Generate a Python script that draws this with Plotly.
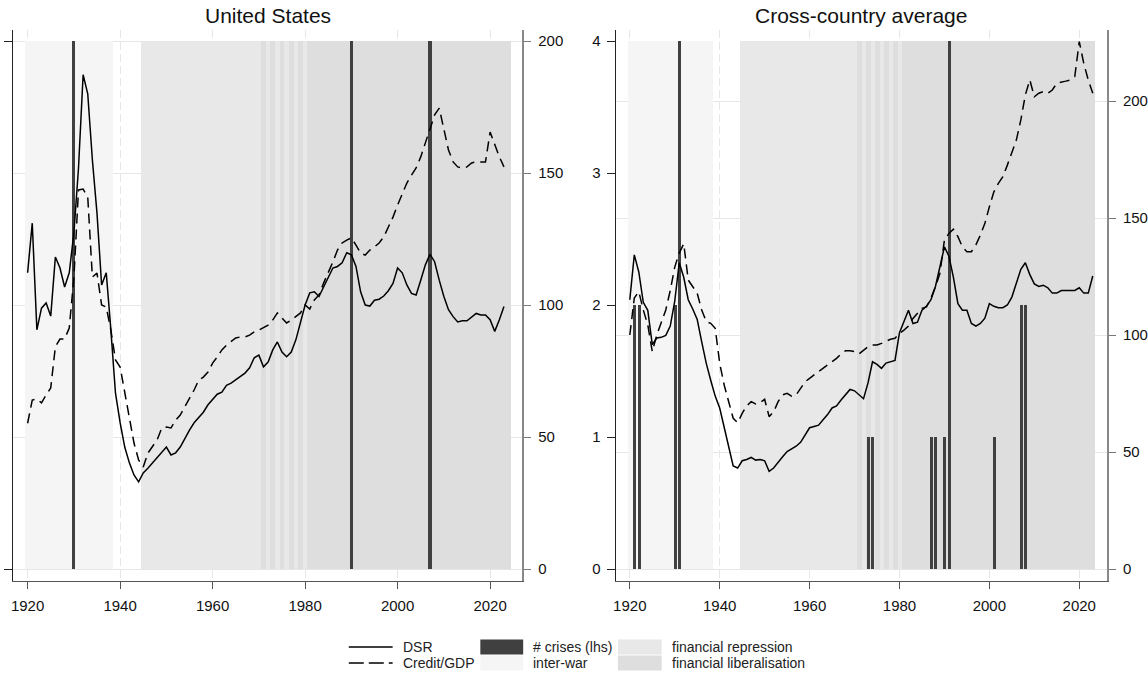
import plotly.graph_objects as go

W, H = 1148, 675
FONT = "Liberation Sans, Arial, sans-serif"

# ---------------------------------------------------------------- data
us_years = list(range(1920, 2024))
us_dsr = [
    0.561, 0.655, 0.453, 0.494, 0.504, 0.479, 0.591, 0.570, 0.534, 0.561,
    0.636, 0.759, 0.936, 0.900, 0.775, 0.674, 0.538, 0.561, 0.453, 0.333,
    0.277, 0.231, 0.201, 0.178, 0.165, 0.182, 0.191, 0.201, 0.212, 0.220,
    0.231, 0.216, 0.220, 0.231, 0.248, 0.263, 0.277, 0.286, 0.297, 0.311,
    0.320, 0.331, 0.335, 0.348, 0.352, 0.358, 0.364, 0.371, 0.381, 0.400,
    0.405, 0.383, 0.392, 0.415, 0.430, 0.411, 0.402, 0.411, 0.434, 0.468,
    0.500, 0.523, 0.525, 0.516, 0.535, 0.554, 0.570, 0.573, 0.580, 0.599,
    0.595, 0.573, 0.525, 0.500, 0.498, 0.509, 0.511, 0.517, 0.527, 0.541,
    0.570, 0.561, 0.538, 0.522, 0.519, 0.547, 0.576, 0.596, 0.582, 0.547,
    0.516, 0.491, 0.478, 0.468, 0.470, 0.470, 0.477, 0.484, 0.481, 0.481,
    0.472, 0.450, 0.472, 0.497,
]
us_credit = [
    55.2, 64.0, 64.4, 62.9, 65.9, 68.6, 84.2, 87.1, 87.1, 91.3,
    110.2, 143.6, 143.9, 140.9, 110.6, 112.1, 100.0, 99.2, 90.5, 79.2,
    76.5, 66.7, 56.4, 47.7, 41.3, 38.6, 43.9, 46.2, 48.9, 53.4,
    53.8, 53.4, 56.4, 58.3, 61.4, 64.8, 67.8, 71.6, 72.7, 74.6,
    78.0, 80.3, 83.0, 84.8, 86.0, 87.5, 87.9, 87.9, 88.6, 89.8,
    90.5, 91.3, 92.4, 94.3, 97.0, 95.1, 93.2, 94.3, 95.5, 97.0,
    100.0, 98.5, 101.9, 103.8, 108.3, 112.1, 116.3, 120.8, 123.5, 124.6,
    125.4, 122.7, 119.7, 118.9, 120.8, 122.0, 123.5, 125.8, 129.5, 133.3,
    137.9, 142.4, 146.2, 149.2, 151.9, 156.1, 161.4, 167.4, 172.0, 174.6,
    166.3, 158.7, 154.2, 152.3, 151.9, 152.3, 153.8, 154.2, 154.2, 154.2,
    165.5, 160.6, 156.1, 152.3,
]
us_crisis_years = [1930, 1990, 2007]
us_crisis_count = [1, 1, 1]

cc_years = list(range(1920, 2024))
cc_dsr = [
    2.04, 2.38, 2.25, 2.02, 1.96, 1.70, 1.75, 1.755, 1.77, 1.84,
    2.03, 2.32, 2.21, 2.04, 1.97, 1.89, 1.72, 1.56, 1.43, 1.31,
    1.22, 1.07, 0.93, 0.78, 0.765, 0.82, 0.83, 0.845, 0.825, 0.83,
    0.82, 0.74, 0.765, 0.81, 0.85, 0.89, 0.91, 0.93, 0.96, 1.01,
    1.07, 1.08, 1.09, 1.13, 1.17, 1.22, 1.235, 1.28, 1.32, 1.36,
    1.35, 1.32, 1.29, 1.41, 1.57, 1.55, 1.52, 1.56, 1.57, 1.58,
    1.79, 1.87, 1.96, 1.86, 1.87, 1.96, 1.99, 2.04, 2.14, 2.29,
    2.44, 2.37, 2.21, 2.01, 1.96, 1.96, 1.86, 1.84, 1.86, 1.90,
    2.01, 1.99, 1.98, 1.98, 2.00, 2.06, 2.16, 2.27, 2.32, 2.23,
    2.16, 2.14, 2.15, 2.13, 2.09, 2.09, 2.11, 2.11, 2.11, 2.11,
    2.13, 2.09, 2.09, 2.22,
]
cc_credit = [
    100.0, 115.8, 118.5, 110.7, 104.3, 92.9, 100.0, 105.7, 110.7, 119.0,
    129.0, 135.0, 139.0, 123.5, 120.7, 117.8, 110.7, 105.7, 105.0, 102.9,
    87.9, 78.6, 71.5, 64.4, 62.5, 66.5, 69.7, 71.5, 70.5, 71.1,
    72.5, 65.1, 67.2, 71.5, 74.4, 75.1, 73.9, 74.4, 77.2, 80.0,
    81.5, 82.9, 84.3, 85.8, 87.2, 88.6, 90.0, 91.9, 93.3, 93.3,
    92.9, 91.9, 93.6, 95.0, 95.7, 95.7, 96.4, 97.2, 98.2, 98.6,
    100.7, 102.1, 103.8, 107.1, 109.3, 111.4, 112.0, 115.7, 120.6, 126.4,
    140.6, 143.4, 145.2, 142.0, 137.7, 135.6, 135.6, 138.5, 142.7, 147.7,
    154.8, 161.2, 164.8, 167.7, 172.6, 177.6, 183.3, 191.9, 202.6, 209.0,
    201.8, 203.3, 204.0, 203.3, 204.7, 207.6, 208.2, 208.5, 209.0, 210.4,
    225.4, 216.1, 209.0, 203.3,
]
cc_crisis_years = [1921, 1922, 1930, 1931, 1973, 1974, 1987, 1988, 1990, 1991, 2001, 2007, 2008]
cc_crisis_count = [2, 2, 2, 4, 1, 1, 1, 1, 1, 4, 1, 2, 2]

# policy regimes by year
inter_war_years = list(range(1920, 1939))
repression_years = list(range(1945, 1971)) + [1972, 1974, 1976, 1978, 1980]
liberalisation_us = [1971, 1973, 1975, 1977, 1979] + list(range(1981, 2025))
liberalisation_cc = [1971, 1973, 1975, 1977, 1979] + list(range(1981, 2024))

x_ticks = [1920, 1940, 1960, 1980, 2000, 2020]
rhs_ticks = [0, 50, 100, 150, 200]

# ---------------------------------------------------------------- styles
C_INTERWAR = "#f5f5f5"
C_REPRESSION = "#e8e8e8"
C_LIBERAL = "#dedede"
C_CRISIS = "#404040"
C_GRID = "#e6e6e6"


def px_x(p):
    return p / W


def px_y(p):
    return 1 - p / H


fig = go.Figure()


def regime_bars(years, top, color, xa, ya):
    fig.add_trace(go.Bar(
        x=years, y=[top] * len(years), width=[1.0] * len(years),
        marker=dict(color=color, line=dict(width=0)),
        xaxis=xa, yaxis=ya, showlegend=False, hoverinfo="skip",
    ))


def panel(years, dsr, credit, cyears, ccount, lib_years, top, xa, ya, ya2):
    regime_bars(inter_war_years, top, C_INTERWAR, xa, ya)
    regime_bars(repression_years, top, C_REPRESSION, xa, ya)
    regime_bars(lib_years, top, C_LIBERAL, xa, ya)
    fig.add_trace(go.Bar(
        x=cyears, y=ccount, width=[0.68] * len(cyears),
        marker=dict(color=C_CRISIS, line=dict(width=0)),
        xaxis=xa, yaxis=ya, showlegend=False, name="# crises (lhs)",
    ))
    fig.add_trace(go.Scatter(
        x=years, y=dsr, mode="lines", name="DSR",
        line=dict(color="black", width=1.5),
        xaxis=xa, yaxis=ya, showlegend=False,
    ))
    fig.add_trace(go.Scatter(
        x=years, y=credit, mode="lines", name="Credit/GDP",
        line=dict(color="black", width=1.5, dash="10px,6px"),
        xaxis=xa, yaxis=ya2, showlegend=False,
    ))


panel(us_years, us_dsr, us_credit, us_crisis_years, us_crisis_count,
      liberalisation_us, 1, "x", "y", "y2")
panel(cc_years, cc_dsr, cc_credit, cc_crisis_years, cc_crisis_count,
      liberalisation_cc, 4, "x2", "y3", "y4")

y_dom = [px_y(581), px_y(30)]
tick_font = dict(family=FONT, size=15, color="#111")

xcommon = dict(
    tickvals=x_ticks, ticks="outside", ticklen=7, tickwidth=1, tickcolor="#555",
    showline=True, linecolor="#555", linewidth=1, zeroline=False,
    showgrid=True, gridcolor=C_GRID, gridwidth=1, griddash="8px,4px",
    tickfont=tick_font, ticklabelstandoff=4,
)
lcommon = dict(
    ticks="outside", ticklen=8, tickwidth=1, tickcolor="#222",
    showline=True, linecolor="#222", linewidth=1, zeroline=False,
    showgrid=False, tickfont=tick_font, domain=y_dom,
)
rcommon = dict(
    side="right", tickvals=rhs_ticks, ticks="outside", ticklen=7, tickwidth=1,
    tickcolor="#777", showline=True, linecolor="#888", linewidth=1.5,
    zeroline=False, showgrid=True, gridcolor=C_GRID, gridwidth=1,
    tickfont=tick_font, ticklabelstandoff=4,
)

fig.update_layout(
    width=W, height=H, margin=dict(l=0, r=0, t=0, b=0),
    paper_bgcolor="white", plot_bgcolor="rgba(0,0,0,0)",
    barmode="overlay", bargap=0, showlegend=False,
    font=dict(family=FONT, color="#111"),
    xaxis=dict(domain=[px_x(11), px_x(522.3)], range=[1916.83, 2027.0],
               anchor="y", **xcommon),
    yaxis=dict(anchor="x", range=[-12 / 528, 1 + 11 / 528], tickvals=[0, 1],
               showticklabels=False, **lcommon),
    yaxis2=dict(anchor="x", overlaying="y", range=[-12 / 2.64, 200 + 11 / 2.64],
                **rcommon),
    xaxis2=dict(domain=[px_x(615.7), px_x(1109)], range=[1916.83, 2026.2],
                anchor="y3", **xcommon),
    yaxis3=dict(anchor="x2", range=[-12 / 132, 4 + 11 / 132],
                tickvals=[0, 1, 2, 3, 4], ticklabelstandoff=3, **lcommon),
    yaxis4=dict(anchor="x2", overlaying="y3", range=[-12 / 2.34, 539 / 2.34],
                **rcommon),
)

# panel titles
for txt, cx in [("United States", (11 + 522.3) / 2), ("Cross-country average", (615.7 + 1109) / 2)]:
    fig.add_annotation(text=txt, x=px_x(cx), y=px_y(16), xref="paper", yref="paper",
                       showarrow=False, xanchor="center", yanchor="middle",
                       font=dict(family=FONT, size=21, color="#111"))

# legend
leg_font = dict(family=FONT, size=14, color="#222")
rows = {1: 647, 2: 663}
fig.add_shape(type="line", xref="paper", yref="paper",
              x0=px_x(348), x1=px_x(392), y0=px_y(rows[1]), y1=px_y(rows[1]),
              line=dict(color="black", width=1.5))
fig.add_shape(type="line", xref="paper", yref="paper",
              x0=px_x(348), x1=px_x(392), y0=px_y(rows[2]), y1=px_y(rows[2]),
              line=dict(color="black", width=1.5, dash="15px,5px"))
boxes = [
    (480, 523, 1, C_CRISIS, "# crises (lhs)"),
    (480, 523, 2, C_INTERWAR, "inter-war"),
    (618, 662, 1, C_REPRESSION, "financial repression"),
    (618, 662, 2, C_LIBERAL, "financial liberalisation"),
]
for x0, x1, r, col, _ in boxes:
    fig.add_shape(type="rect", xref="paper", yref="paper",
                  x0=px_x(x0), x1=px_x(x1), y0=px_y(rows[r] + 7.5), y1=px_y(rows[r] - 7.5),
                  fillcolor=col, line=dict(width=0))
labels = [(400, 1, "DSR"), (400, 2, "Credit/GDP")] + [(x1 + 8, r, t) for _, x1, r, _, t in boxes]
for lx, r, t in labels:
    fig.add_annotation(text=t, x=px_x(lx), y=px_y(rows[r]), xref="paper", yref="paper",
                       showarrow=False, xanchor="left", yanchor="middle", font=leg_font)

fig.write_html("out.html")
